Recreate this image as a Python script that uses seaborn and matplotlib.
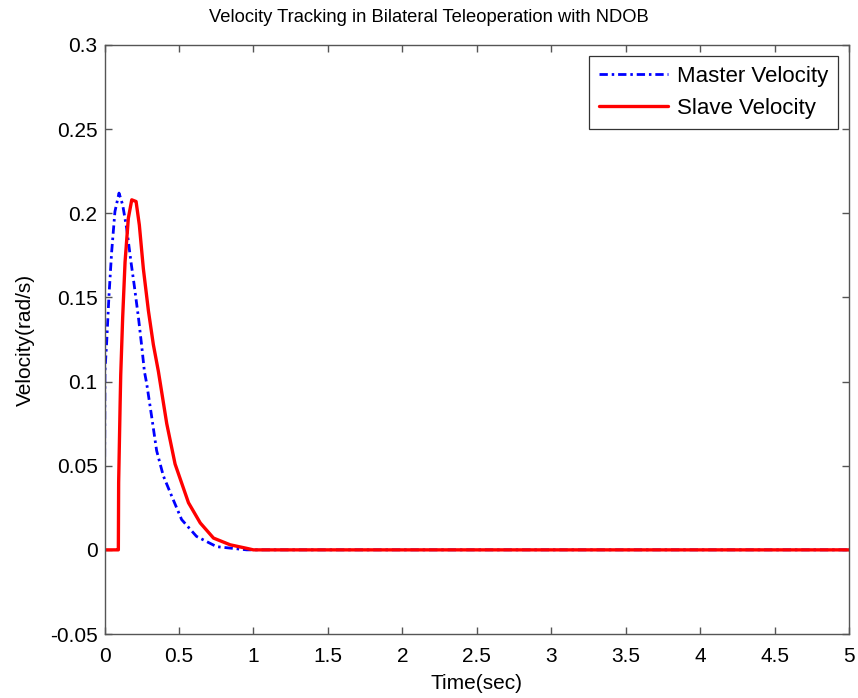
import matplotlib
matplotlib.use("Agg")
import matplotlib.pyplot as plt
import seaborn as sns
import pandas as pd

# ---- data ----
master_t = [0, 0.001, 0.003, 0.015, 0.03, 0.048, 0.07, 0.0975, 0.122, 0.149, 0.178,
            0.2, 0.228, 0.25, 0.268, 0.283, 0.317, 0.35, 0.395, 0.451, 0.518, 0.618,
            0.753, 0.955, 5.0]
master_v = [0, 0.05, 0.106, 0.124, 0.151, 0.177, 0.201, 0.212, 0.205, 0.191, 0.171,
            0.157, 0.138, 0.121, 0.106, 0.099, 0.079, 0.059, 0.044, 0.032, 0.018, 0.008,
            0.0019, 0.0, 0.0]

slave_t = [0, 0.09, 0.093, 0.095, 0.105, 0.109, 0.122, 0.138, 0.16, 0.183, 0.212,
           0.234, 0.261, 0.295, 0.328, 0.362, 0.418, 0.474, 0.564, 0.643, 0.732,
           0.844, 0.955, 1.0, 5.0]
slave_v = [0, 0, 0, 0.04, 0.087, 0.104, 0.138, 0.171, 0.197, 0.208, 0.207,
           0.193, 0.167, 0.142, 0.122, 0.106, 0.075, 0.051, 0.028, 0.016, 0.007,
           0.003, 0.0009, 0.0, 0.0]

series_names = ["Master Velocity", "Slave Velocity"]
x_ticks = [0, 0.5, 1, 1.5, 2, 2.5, 3, 3.5, 4, 4.5, 5]
y_ticks = [-0.05, 0, 0.05, 0.1, 0.15, 0.2, 0.25, 0.3]

df_m = pd.DataFrame({"t": master_t, "v": master_v})
df_s = pd.DataFrame({"t": slave_t, "v": slave_v})

sns.set_style("white")
plt.rcParams["font.family"] = ["Liberation Sans", "DejaVu Sans"]
plt.rcParams["text.color"] = "black"
plt.rcParams["axes.labelcolor"] = "black"
plt.rcParams["xtick.color"] = "black"
plt.rcParams["ytick.color"] = "black"

fig = plt.figure(figsize=(8.58, 6.98), dpi=100)
ax = fig.add_axes([104.5 / 858, 1 - 634 / 698, (849 - 104.5) / 858, (634 - 45) / 698])

sns.lineplot(data=df_m, x="t", y="v", ax=ax, color="#0000ff", linewidth=2.0,
             linestyle=(0, (3.0, 1.4, 0.9, 1.4)), label=series_names[0],
             estimator=None, sort=False)
sns.lineplot(data=df_s, x="t", y="v", ax=ax, color="#ff0000", linewidth=2.4,
             label=series_names[1], estimator=None, sort=False)

ax.set_xlim(0, 5)
ax.set_ylim(-0.05, 0.3)
ax.set_xticks(x_ticks)
ax.set_xticklabels([f"{v:g}" for v in x_ticks])
ax.set_yticks(y_ticks)
ax.set_yticklabels([f"{v:g}" for v in y_ticks])

for s in ax.spines.values():
    s.set_visible(True)
    s.set_color("#555555")
    s.set_linewidth(1.0)
ax.tick_params(direction="in", length=5, width=1.0, color="#555555",
               labelsize=15, labelcolor="black", top=True, right=True,
               bottom=True, left=True, pad=5)
ax.tick_params(axis="x", pad=9)

fig.text(0.5, 1 - 18 / 698, "Velocity Tracking in Bilateral Teleoperation with NDOB",
         fontsize=13.2, color="black", ha="center", va="center")
ax.set_xlabel("Time(sec)", fontsize=15, labelpad=6)
ax.set_ylabel("Velocity(rad/s)", fontsize=15, labelpad=11)

leg = ax.legend(loc="upper right", fontsize=16, frameon=True, fancybox=False,
                edgecolor="#333333", framealpha=1,
                bbox_to_anchor=((838 - 104.5) / (849 - 104.5), (634 - 56) / (634 - 45)),
                borderaxespad=0.0, handlelength=3.1, handletextpad=0.4,
                borderpad=0.45, labelspacing=0.5)
leg.get_frame().set_linewidth(0.9)

fig.savefig("out.png", dpi=100, facecolor="white")
